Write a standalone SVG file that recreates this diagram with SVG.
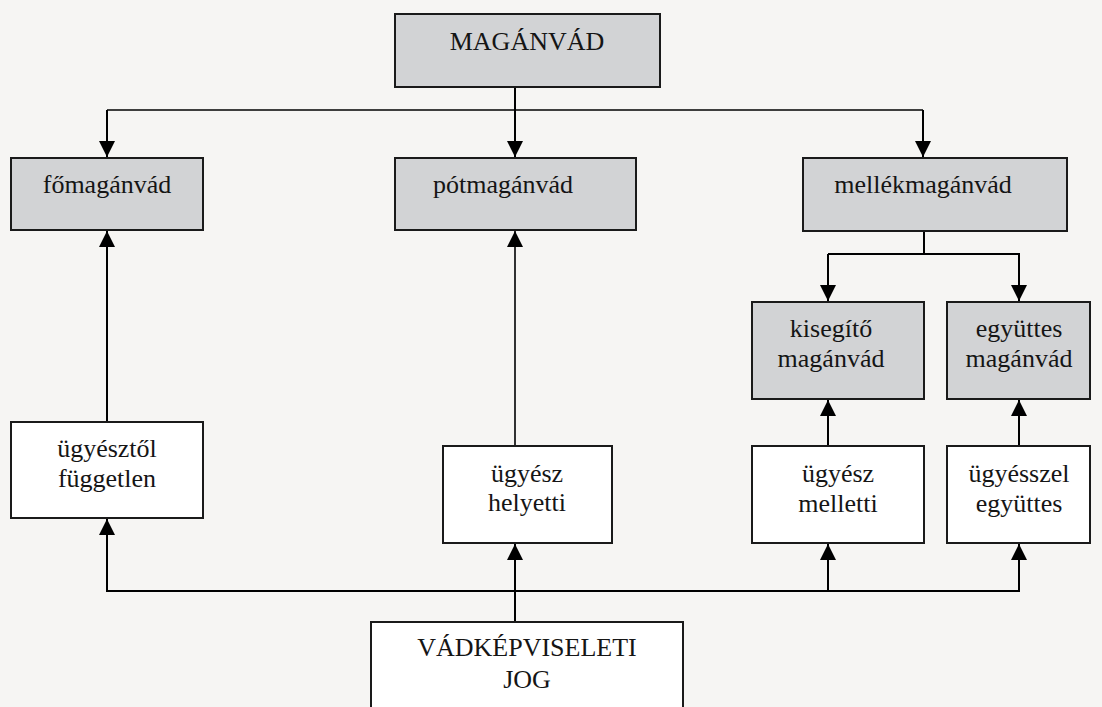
<svg xmlns="http://www.w3.org/2000/svg" width="1102" height="707" viewBox="0 0 1102 707">
<style>
.bg{fill:#f6f5f3}
.g{fill:#d2d3d5;stroke:#1a1a1a;stroke-width:2}
.w{fill:#ffffff;stroke:#1a1a1a;stroke-width:2}
text{font-family:"Liberation Serif","Times New Roman",serif;font-size:26px;fill:#151515;text-anchor:middle}
.c{fill:none;stroke:#000;stroke-width:2}
.t{fill:none;stroke:#000;stroke-width:1.6}
</style>
<defs>
<marker id="ah" markerUnits="userSpaceOnUse" markerWidth="16" markerHeight="16" viewBox="0 0 16 16" refX="16" refY="8" orient="auto">
<path d="M0,0 L16,8 L0,16 Z" fill="#000"/>
</marker>
</defs>
<rect class="bg" x="0" y="0" width="1102" height="707"/>
<g id="connectors">
<line class="t" x1="107" y1="110" x2="923" y2="110"/>
<line class="c" x1="515" y1="87" x2="515" y2="157" marker-end="url(#ah)"/>
<line class="c" x1="107" y1="110" x2="107" y2="157" marker-end="url(#ah)"/>
<line class="c" x1="923" y1="110" x2="923" y2="157" marker-end="url(#ah)"/>
<line class="c" x1="924" y1="231" x2="924" y2="254"/>
<polyline class="c" points="828,254 1019,254 1019,301" marker-end="url(#ah)"/>
<line class="c" x1="828" y1="254" x2="828" y2="301" marker-end="url(#ah)"/>
<line class="c" x1="107" y1="422" x2="107" y2="231" marker-end="url(#ah)"/>
<line class="t" x1="515" y1="446" x2="515" y2="231" marker-end="url(#ah)"/>
<line class="c" x1="828" y1="446" x2="828" y2="400" marker-end="url(#ah)"/>
<line class="c" x1="1019" y1="446" x2="1019" y2="400" marker-end="url(#ah)"/>
<polyline class="c" points="107,519 107,591 1019,591 1019,544"/>
<line class="c" x1="107" y1="591" x2="107" y2="519" marker-end="url(#ah)"/>
<line class="c" x1="1019" y1="591" x2="1019" y2="544" marker-end="url(#ah)"/>
<line class="c" x1="828" y1="591" x2="828" y2="544" marker-end="url(#ah)"/>
<line class="c" x1="515" y1="621" x2="515" y2="544" marker-end="url(#ah)"/>
</g>
<g id="maganvad"><rect class="g" x="395" y="14" width="265" height="73"/><text x="527" y="50">MAGÁNVÁD</text></g>
<g id="fomaganvad"><rect class="g" x="11" y="158" width="192" height="72"/><text x="107" y="193">főmagánvád</text></g>
<g id="potmaganvad"><rect class="g" x="395" y="158" width="241" height="72"/><text x="503" y="193">pótmagánvád</text></g>
<g id="mellekmaganvad"><rect class="g" x="803" y="158" width="264" height="73"/><text x="923" y="193">mellékmagánvád</text></g>
<g id="kisegito"><rect class="g" x="752" y="302" width="172" height="97"/><text x="831" y="337">kisegítő</text><text x="831" y="367">magánvád</text></g>
<g id="egyuttes"><rect class="g" x="947" y="302" width="143" height="97"/><text x="1019" y="337">együttes</text><text x="1019" y="367">magánvád</text></g>
<g id="fuggetlen"><rect class="w" x="11" y="422" width="192" height="96"/><text x="107" y="457">ügyésztől</text><text x="107" y="487">független</text></g>
<g id="helyetti"><rect class="w" x="443" y="446" width="169" height="97"/><text x="527" y="482">ügyész</text><text x="527" y="511">helyetti</text></g>
<g id="melletti"><rect class="w" x="752" y="446" width="172" height="97"/><text x="838" y="482">ügyész</text><text x="838" y="512">melletti</text></g>
<g id="egyutt"><rect class="w" x="947" y="446" width="143" height="97"/><text x="1019" y="482">ügyésszel</text><text x="1019" y="512">együttes</text></g>
<g id="vadkepviseleti"><rect class="w" x="371" y="622" width="312" height="100"/><text x="527" y="656">VÁDKÉPVISELETI</text><text x="527" y="688">JOG</text></g>
</svg>
